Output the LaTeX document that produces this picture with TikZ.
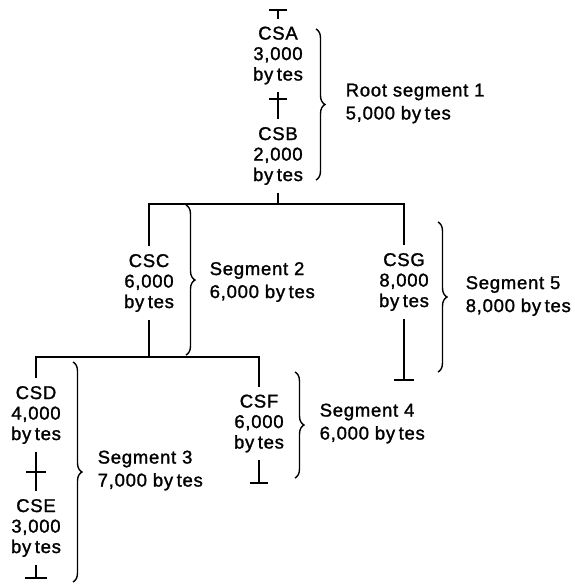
\documentclass[tikz,border=0pt]{standalone}
\usepackage{fontspec}
\setmainfont{Liberation Sans}[LetterSpace=4,FakeBold=1.4]
\usetikzlibrary{decorations.pathreplacing,calc}
\newcommand{\byt}{by\kern3.5pt tes}
\begin{document}
\begin{tikzpicture}[x=1pt,y=-1pt, line width=1.5pt,
  seg/.style={inner xsep=0pt, inner ysep=7pt, align=center, font=\fontsize{18.5}{20.5}\selectfont},
  lab/.style={inner sep=0pt, anchor=west, align=left, font=\fontsize{18.5}{23}\selectfont},
  brc/.style={decorate, decoration={brace, amplitude=9pt}, line width=1.4pt}
]
\useasboundingbox (0,0) rectangle (575,584);

% segment nodes
\node[seg] (csa) at (278,55.5) {CSA\\3,000\\\byt};
\node[seg] (csb) at (278,156) {CSB\\2,000\\\byt};
\node[seg] (csc) at (149,283) {CSC\\6,000\\\byt};
\node[seg] (csg) at (404,282) {CSG\\8,000\\\byt};
\node[seg] (csd) at (36,415) {CSD\\4,000\\\byt};
\node[seg] (cse) at (36,528) {CSE\\3,000\\\byt};
\node[seg] (csf) at (259,423.5) {CSF\\6,000\\\byt};

% coordinates
\coordinate (topEnd) at (278,10);
\coordinate (x1) at (278,99);
\coordinate (bus1) at (278,204);
\coordinate (bus2) at (149,357);
\coordinate (x2) at (36,472);
\coordinate (csgEnd) at (404,380);
\coordinate (cseEnd) at (36,578);
\coordinate (csfEnd) at (259,483);

% connectors
\draw (topEnd) -- (csa.north);
\draw ($(topEnd)+(-9,0)$) -- ($(topEnd)+(9,0)$);
\draw (csa.south) -- (csb.north);
\draw ($(x1)+(-9,0)$) -- ($(x1)+(9,0)$);
\draw (csb.south) -- (bus1);
\draw (csc.north) |- (bus1) -| (csg.north);
\draw (csc.south) -- (bus2);
\draw (csd.north) |- (bus2) -| (csf.north);
\draw (csd.south) -- (cse.north);
\draw ($(x2)+(-10,0)$) -- ($(x2)+(10,0)$);
\draw (csg.south) -- (csgEnd);
\draw ($(csgEnd)+(-10,0)$) -- ($(csgEnd)+(10,0)$);
\draw (cse.south) -- (cseEnd);
\draw ($(cseEnd)+(-11,0)$) -- ($(cseEnd)+(11,0)$);
\draw (csf.south) -- (csfEnd);
\draw ($(csfEnd)+(-9,0)$) -- ($(csfEnd)+(9,0)$);

% braces
\draw[brc] (316,29) -- (316,180);
\draw[brc] (186,205) -- (186,355);
\draw[brc] (438,222) -- (438,372);
\draw[brc] (73,362) -- (73,582);
\draw[brc] (295,372) -- (295,478);

% labels
\node[lab] (l1) at (345,103.5) {Root segment 1\\5,000 \byt};
\node[lab] (l2) at (209,282) {Segment 2\\6,000 \byt};
\node[lab] (l5) at (465,296) {Segment 5\\8,000 \byt};
\node[lab] (l3) at (97,470.5) {Segment 3\\7,000 \byt};
\node[lab] (l4) at (319,423.5) {Segment 4\\6,000 \byt};
\end{tikzpicture}
\end{document}
